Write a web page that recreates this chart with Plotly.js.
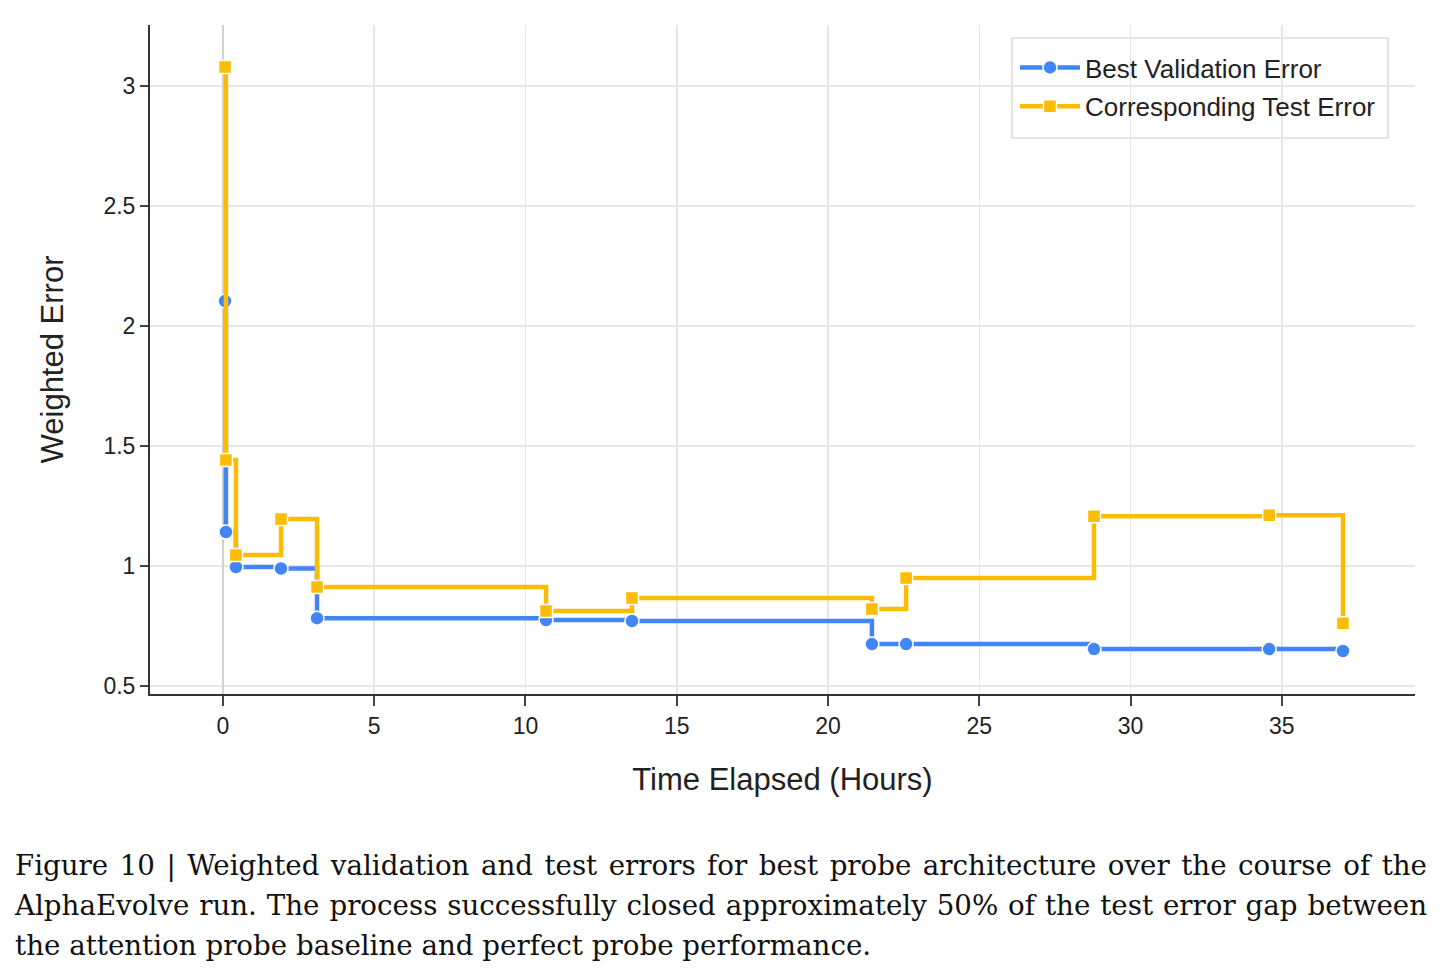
<!DOCTYPE html>
<html>
<head>
<meta charset="utf-8">
<script src="https://cdn.plot.ly/plotly-3.0.1.min.js"></script>
<style>
  html, body { margin: 0; padding: 0; background: #fff; width: 1443px; height: 974px; overflow: hidden; }
  #chart { position: absolute; left: 0; top: 0; width: 1443px; height: 830px; }
  #caption { position: absolute; left: 15px; top: 846px; width: 1412px;
             font-family: "DejaVu Serif", serif; font-size: 27.7px; color: #111; }
  #caption div { line-height: 40px; height: 40px; white-space: nowrap; }
  #caption div.full { text-align: justify; text-align-last: justify; white-space: normal; }
</style>
</head>
<body>
<div id="chart"></div>
<div id="caption">
  <div class="full">Figure 10 | Weighted validation and test errors for best probe architecture over the course of the</div>
  <div class="full">AlphaEvolve run. The process successfully closed approximately 50% of the test error gap between</div>
  <div>the attention probe baseline and perfect probe performance.</div>
</div>
<script>
// Hours elapsed at each new best-validation checkpoint
const hours = [0.07, 0.1, 0.43, 1.92, 3.11, 10.68, 13.52, 21.45, 22.58, 28.79, 34.58, 37.02];
// Best validation error found so far
const validationError = [2.104, 1.142, 0.996, 0.99, 0.783, 0.775, 0.771, 0.675, 0.675, 0.654, 0.654, 0.646];
// Test error of the same architecture
const testError = [3.079, 1.442, 1.046, 1.196, 0.913, 0.813, 0.867, 0.821, 0.95, 1.208, 1.212, 0.762];

const xTicks = [0, 5, 10, 15, 20, 25, 30, 35];
const yTicks = [0.5, 1, 1.5, 2, 2.5, 3];
const yTickText = ['0.5', '1', '1.5', '2', '2.5', '3'];

const BLUE = '#4285F4';
const YELLOW = '#FBBC04';
const sans = 'Liberation Sans, Arial, sans-serif';

const traces = [
  {
    x: hours, y: validationError, name: 'Best Validation Error', legendgroup: 'val',
    type: 'scatter', mode: 'lines+markers',
    line: { color: BLUE, width: 4.5, shape: 'hv' },
    marker: { symbol: 'circle', size: 14, color: BLUE, line: { color: '#fff', width: 1.5 } }
  },
  {
    x: hours, y: testError, name: 'Corresponding Test Error', legendgroup: 'test',
    type: 'scatter', mode: 'lines+markers',
    line: { color: YELLOW, width: 4.5, shape: 'hv' },
    marker: { symbol: 'square', size: 13, color: YELLOW, line: { color: '#fff', width: 1.5 } }
  }
];

const layout = {
  width: 1443, height: 830,
  margin: { l: 150, r: 28, t: 25, b: 136 },
  paper_bgcolor: '#fff', plot_bgcolor: '#fff',
  font: { family: sans, color: '#222', size: 23 },
  showlegend: true,
  legend: {
    x: 0.6838, xanchor: 'left', y: 0.9716, yanchor: 'top',
    bgcolor: 'rgba(0,0,0,0)', borderwidth: 0,
    font: { family: sans, size: 26, color: '#222' },
    traceorder: 'grouped', itemwidth: 60, tracegroupgap: 2
  },
  // legend frame
  shapes: [{
    type: 'rect', xref: 'paper', yref: 'paper',
    x0: 0.6814, x1: 0.9787, y0: 0.8311, y1: 0.9806,
    line: { color: '#dcdcdc', width: 1.5 }, fillcolor: '#fff', layer: 'below'
  }],
  xaxis: {
    range: [-2.41, 39.4],
    tickvals: xTicks, ticktext: xTicks.map(String),
    showline: true, linecolor: '#333', linewidth: 2, mirror: false,
    ticks: 'outside', ticklen: 10, tickwidth: 2, tickcolor: '#444',
    showgrid: true, gridcolor: '#e6e6e6', gridwidth: 1.5,
    zeroline: true, zerolinecolor: '#d2d2d2', zerolinewidth: 2,
    tickfont: { family: sans, size: 23, color: '#222' },
    title: { text: 'Time Elapsed (Hours)', font: { family: sans, size: 31, color: '#222' }, standoff: 31 }
  },
  yaxis: {
    range: [0.467, 3.254],
    tickvals: yTicks, ticktext: yTickText,
    showline: true, linecolor: '#333', linewidth: 2, mirror: false,
    ticks: 'outside', ticklen: 8, tickwidth: 2, tickcolor: '#444',
    showgrid: true, gridcolor: '#e6e6e6', gridwidth: 1.5,
    zeroline: false,
    tickfont: { family: sans, size: 23, color: '#222' },
    title: { text: 'Weighted Error', font: { family: sans, size: 31, color: '#222' }, standoff: 31 }
  }
};

Plotly.newPlot('chart', traces, layout, { displayModeBar: false, staticPlot: true });
</script>
</body>
</html>
